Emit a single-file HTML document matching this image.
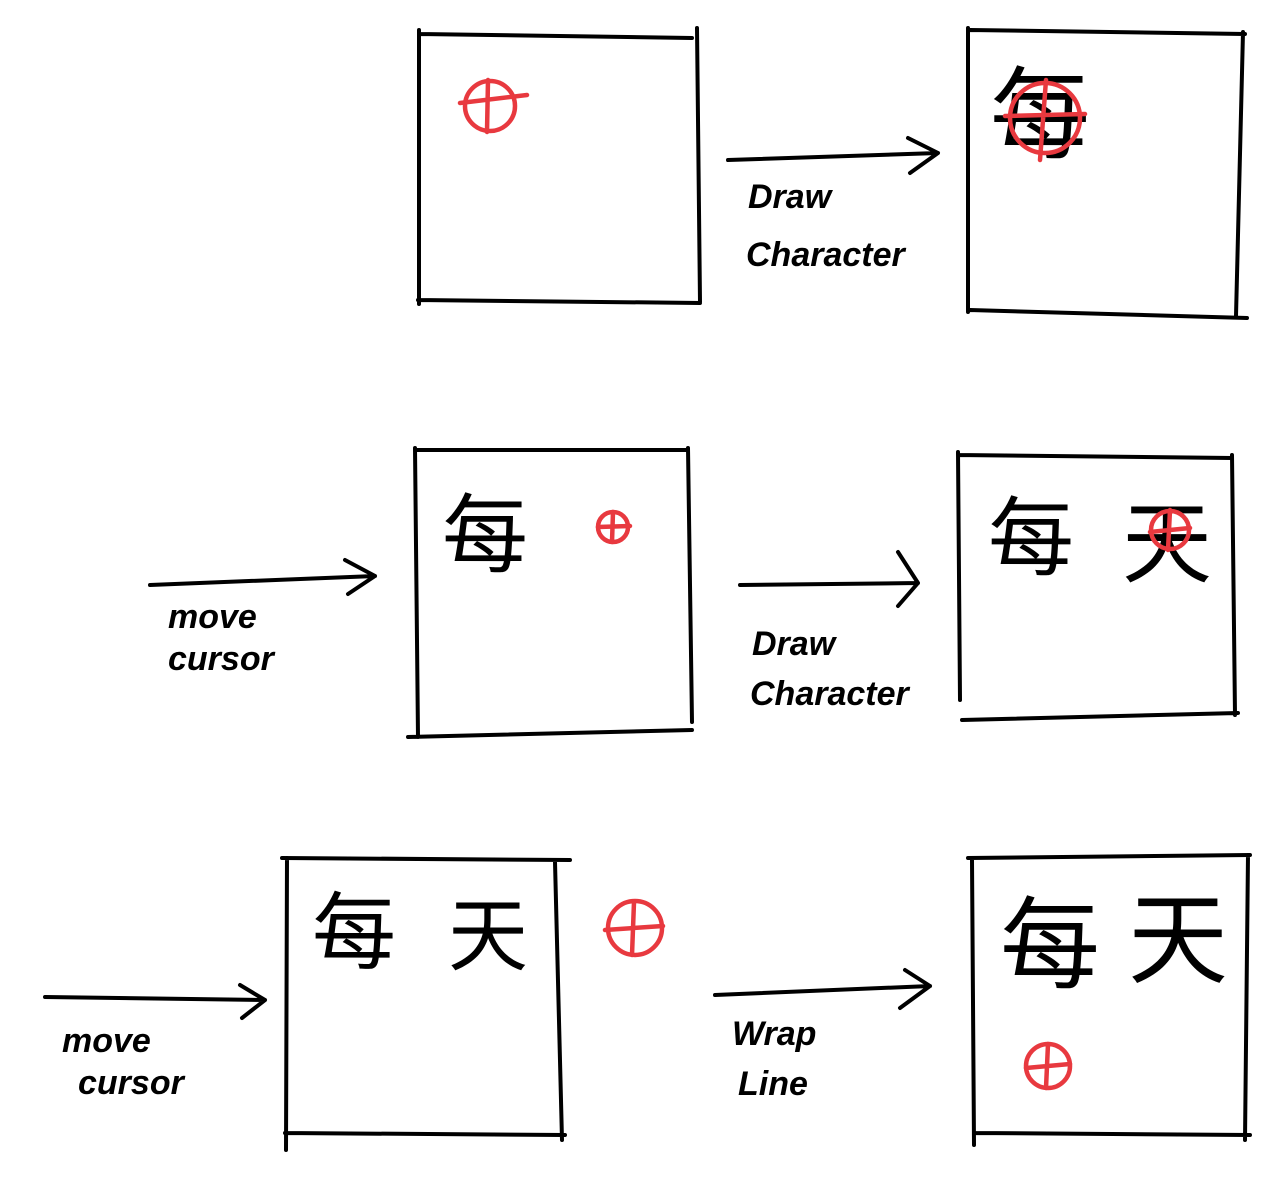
<!DOCTYPE html>
<html><head><meta charset="utf-8"><style>
html,body{margin:0;padding:0;background:#fff;}
svg{display:block;}
.box{fill:none;stroke:#000;stroke-width:4;stroke-linecap:round;stroke-linejoin:round;}
.arr{fill:none;stroke:#000;stroke-width:4;stroke-linecap:round;stroke-linejoin:round;}
.cur{fill:none;stroke:#e8393f;stroke-width:4.5;stroke-linecap:round;}
.lbl{font-family:"Liberation Sans",sans-serif;font-size:34px;font-style:italic;fill:#000;font-weight:bold;}
.cjk{font-family:"Liberation Sans","Noto Sans CJK SC",sans-serif;fill:#000;}
</style></head><body>
<svg width="1282" height="1182" viewBox="0 0 1282 1182">
<!-- Row 1 -->
<g>
<path class="box" d="M420 34 L692 38 M697 28 L700 302 M418 300 L700 303 M419 30 L419 304"/>
<g class="cur"><circle cx="490" cy="106" r="25"/><path d="M460 103 L527 95 M488 80 L487 132"/></g>
</g>
<g>
<path class="arr" d="M728 160 L938 153 M908 138 L938 153 L910 173"/>
<text class="lbl" x="748" y="208">Draw</text>
<text class="lbl" x="746" y="266">Character</text>
</g>
<g>
<path class="box" d="M970 30 L1245 34 M1243 32 L1236 316 M970 310 L1247 318 M968 28 L968 312"/>
<text class="cjk" x="990" y="150" font-size="100">每</text>
<g class="cur"><circle cx="1045" cy="118" r="35"/><path d="M1005 116 L1085 114 M1046 80 L1040 160"/></g>
</g>
<!-- Row 2 -->
<g>
<path class="arr" d="M150 585 L375 576 M345 560 L375 576 L348 594"/>
<text class="lbl" x="168" y="628">move</text>
<text class="lbl" x="168" y="670">cursor</text>
</g>
<g>
<path class="box" d="M415 450 L688 450 M688 448 L692 722 M408 737 L692 730 M415 448 L418 737"/>
<text class="cjk" x="442" y="565" font-size="86">每</text>
<g class="cur"><circle cx="613" cy="527" r="15"/><path d="M598 527 L630 526 M613 512 L612 542"/></g>
</g>
<g>
<path class="arr" d="M740 585 L918 583 M898 552 L918 583 L898 606"/>
<text class="lbl" x="752" y="655">Draw</text>
<text class="lbl" x="750" y="705">Character</text>
</g>
<g>
<path class="box" d="M958 455 L1232 458 M1232 455 L1235 715 M962 720 L1238 713 M958 452 L960 700"/>
<text class="cjk" x="988" y="568" font-size="86">每</text>
<text class="cjk" x="1122" y="575" font-size="90">天</text>
<g class="cur"><circle cx="1170" cy="530" r="19"/><path d="M1150 532 L1190 528 M1170 510 L1168 550"/></g>
</g>
<!-- Row 3 -->
<g>
<path class="arr" d="M45 997 L265 1000 M240 985 L265 1000 L242 1018"/>
<text class="lbl" x="62" y="1052">move</text>
<text class="lbl" x="78" y="1094">cursor</text>
</g>
<g>
<path class="box" d="M282 858 L570 860 M555 862 L562 1140 M285 1133 L565 1135 M287 858 L286 1150"/>
<text class="cjk" x="312" y="962" font-size="84">每</text>
<text class="cjk" x="448" y="964" font-size="80">天</text>
<g class="cur"><circle cx="635" cy="928" r="27"/><path d="M605 930 L663 926 M634 902 L632 955"/></g>
</g>
<g>
<path class="arr" d="M715 995 L930 986 M905 970 L930 986 L900 1008"/>
<text class="lbl" x="732" y="1045">Wrap</text>
<text class="lbl" x="738" y="1095">Line</text>
</g>
<g>
<path class="box" d="M968 858 L1250 855 M1248 855 L1245 1140 M975 1133 L1250 1135 M972 860 L974 1145"/>
<text class="cjk" x="1000" y="980" font-size="100">每</text>
<text class="cjk" x="1128" y="975" font-size="100">天</text>
<g class="cur"><circle cx="1048" cy="1066" r="22"/><path d="M1026 1068 L1070 1064 M1048 1044 L1046 1088"/></g>
</g>
</svg>
</body></html>
